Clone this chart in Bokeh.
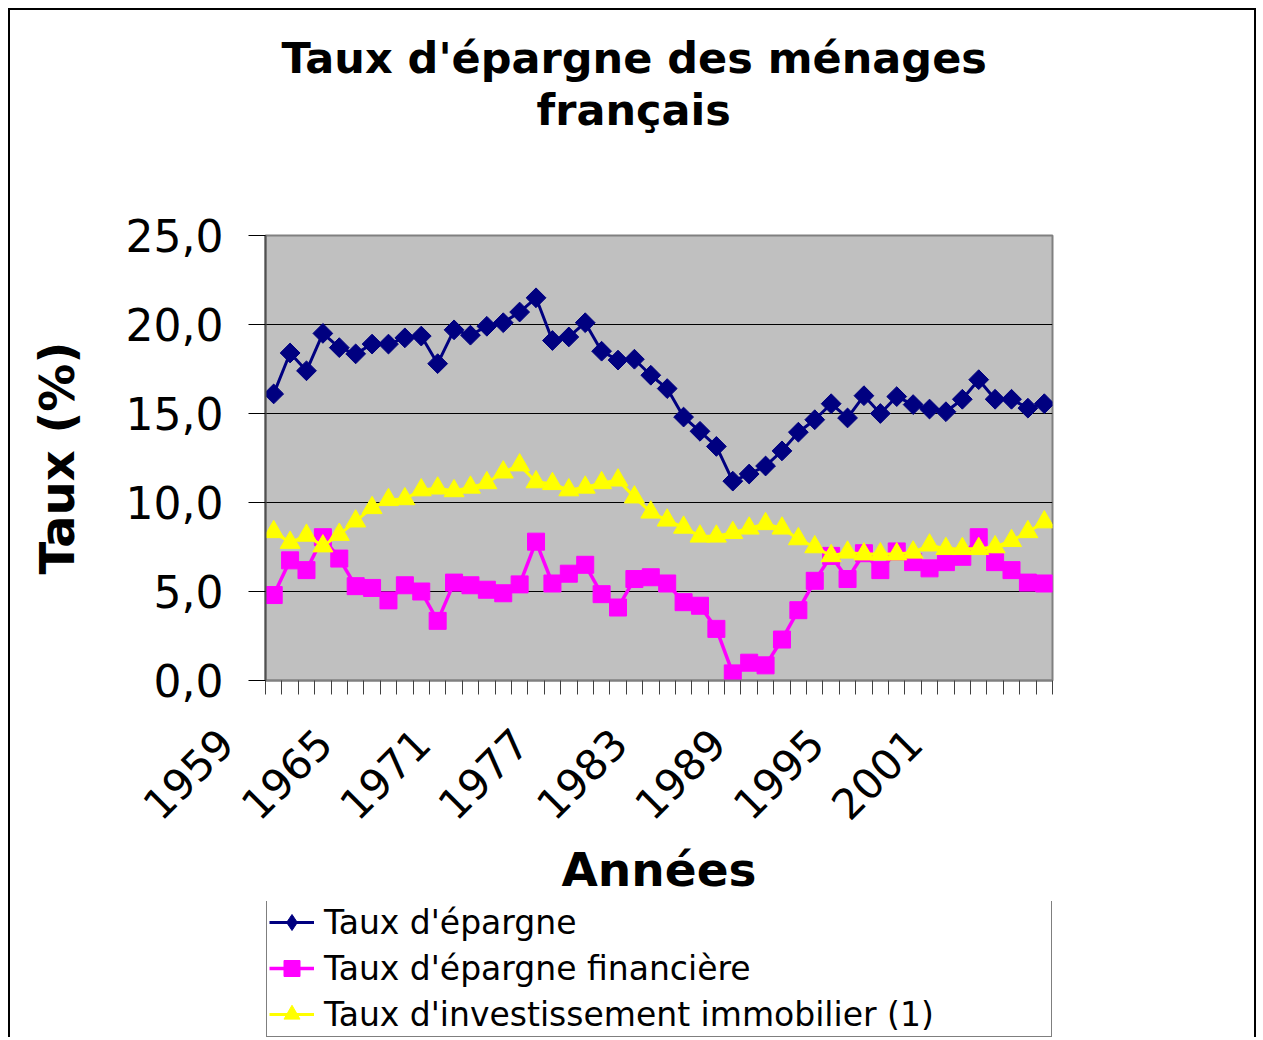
import numpy as np
from bokeh.plotting import figure
from bokeh.layouts import column
from bokeh.models import Range1d, FixedTicker, Legend, LegendItem, Title
from bokeh.embed import file_html
from bokeh.resources import INLINE

years = [1959, 1960, 1961, 1962, 1963, 1964, 1965, 1966, 1967, 1968, 1969, 1970,
         1971, 1972, 1973, 1974, 1975, 1976, 1977, 1978, 1979, 1980, 1981, 1982,
         1983, 1984, 1985, 1986, 1987, 1988, 1989, 1990, 1991, 1992, 1993, 1994,
         1995, 1996, 1997, 1998, 1999, 2000, 2001, 2002, 2003, 2004, 2005, 2006]

taux_epargne = [16.1, 18.4, 17.4, 19.5, 18.7, 18.35, 18.9, 18.9, 19.25, 19.35, 17.8, 19.7,
                19.4, 19.9, 20.1, 20.7, 21.5, 19.1, 19.3, 20.1, 18.5, 18.0, 18.05, 17.15,
                16.4, 14.8, 14.0, 13.15, 11.2, 11.6, 12.05, 12.9, 13.95, 14.65, 15.55, 14.75,
                16.0, 15.0, 15.95, 15.5, 15.25, 15.1, 15.8, 16.9, 15.8, 15.8, 15.3, 15.55]

taux_financiere = [4.8, 6.75, 6.2, 8.05, 6.85, 5.3, 5.2, 4.5, 5.35, 5.0, 3.35, 5.5,
                   5.35, 5.1, 4.9, 5.4, 7.8, 5.45, 6.0, 6.5, 4.85, 4.1, 5.7, 5.8,
                   5.45, 4.4, 4.2, 2.9, 0.4, 1.0, 0.85, 2.3, 3.95, 5.6, 7.0, 5.7,
                   7.15, 6.2, 7.25, 6.65, 6.3, 6.65, 6.95, 8.05, 6.65, 6.2, 5.5, 5.45]

taux_immobilier = [8.35, 7.75, 8.15, 7.55, 8.2, 8.95, 9.7, 10.15, 10.2, 10.7, 10.8, 10.65,
                   10.85, 11.1, 11.7, 12.1, 11.15, 11.05, 10.7, 10.85, 11.1, 11.25, 10.3, 9.45,
                   9.0, 8.6, 8.1, 8.1, 8.3, 8.55, 8.8, 8.55, 7.95, 7.5, 7.0, 7.2,
                   7.1, 7.1, 7.1, 7.2, 7.6, 7.4, 7.4, 7.4, 7.5, 7.85, 8.35, 8.9]

x_tick_years = [1959, 1965, 1971, 1977, 1983, 1989, 1995, 2001]
x_tick_labels = ["1959", "1965", "1971", "1977", "1983", "1989", "1995", "2001"]
y_ticks = [0, 5, 10, 15, 20, 25]
y_tick_labels = ["0,0", "5,0", "10,0", "15,0", "20,0", "25,0"]

title_lines = ["Taux d'épargne des ménages", "français"]
series_names = ["Taux d'épargne", "Taux d'épargne financière",
                "Taux d'investissement immobilier (1)"]
series_colors = ["#000080", "#FF00FF", "#FFFF00"]
series_values = [taux_epargne, taux_financiere, taux_immobilier]

FONT = "DejaVu Sans"

p = figure(frame_width=787, frame_height=445,
           x_range=Range1d(years[0] - 0.5, years[-1] + 0.5),
           y_range=Range1d(0, 25),
           output_backend="svg", toolbar_location=None,
           min_border_left=255, min_border_right=202,
           min_border_top=225, min_border_bottom=221,
           background_fill_color="#C0C0C0", border_fill_color="white",
           outline_line_color="#808080", outline_line_width=2)

# title block (items stack outward from the plot): spacer, line 2, line 1, spacer
p.title.text = " "
p.title.text_font_size = "1px"
p.title.standoff = 0
p.add_layout(Title(text=" ", text_font_size="1px", standoff=97), "above")
p.add_layout(Title(text=title_lines[1], align="left", offset=271, standoff=0,
                   vertical_align="middle", text_font=FONT, text_font_style="bold",
                   text_font_size="43px", text_color="black"), "above")
p.add_layout(Title(text=title_lines[0], align="left", offset=16, standoff=0,
                   vertical_align="middle", text_font=FONT, text_font_style="bold",
                   text_font_size="43px", text_color="black"), "above")
p.add_layout(Title(text=" ", text_font_size="1px", standoff=14), "above")

# x axis
boundaries = [y - 0.5 for y in years] + [years[-1] + 0.5]
pad = "\u00a0" * 5
p.xaxis.ticker = FixedTicker(ticks=x_tick_years, minor_ticks=boundaries)
p.xaxis.major_label_overrides = {yr: lab + pad for yr, lab in zip(x_tick_years, x_tick_labels)}
p.xaxis.major_label_orientation = np.pi / 4
p.xaxis.major_tick_line_color = None
p.xaxis.major_tick_out = 0
p.xaxis.major_tick_in = 0
p.xaxis.minor_tick_out = 14
p.xaxis.minor_tick_in = 0
p.xaxis.minor_tick_line_color = "#404040"
p.xaxis.minor_tick_line_width = 1
p.xaxis.axis_line_color = "#808080"
p.xaxis.axis_line_width = 2
p.xaxis.major_label_text_font = FONT
p.xaxis.major_label_text_font_size = "42px"
p.xaxis.major_label_text_color = "black"
p.xaxis.major_label_standoff = -5
p.xaxis.axis_label = "Années"
p.xaxis.axis_label_text_font = FONT
p.xaxis.axis_label_text_font_style = "bold"
p.xaxis.axis_label_text_font_size = "47px"
p.xaxis.axis_label_text_color = "black"
p.xaxis.axis_label_standoff = -8

# y axis
p.yaxis.ticker = FixedTicker(ticks=y_ticks, minor_ticks=[])
p.yaxis.major_label_overrides = dict(zip(y_ticks, y_tick_labels))
p.yaxis.major_tick_out = 17
p.yaxis.major_tick_in = 0
p.yaxis.major_tick_line_color = "black"
p.yaxis.minor_tick_line_color = None
p.yaxis.axis_line_color = "#505050"
p.yaxis.axis_line_width = 2
p.yaxis.major_label_text_font = FONT
p.yaxis.major_label_text_font_size = "44px"
p.yaxis.major_label_text_color = "black"
p.yaxis.major_label_standoff = 25
p.yaxis.axis_label = "Taux (%)"
p.yaxis.axis_label_text_font = FONT
p.yaxis.axis_label_text_font_style = "bold"
p.yaxis.axis_label_text_font_size = "48px"
p.yaxis.axis_label_text_color = "black"
p.yaxis.axis_label_standoff = 38

p.xgrid.visible = False
p.ygrid.grid_line_color = "black"
p.ygrid.grid_line_width = 1

markers = [dict(marker="square", size=14, angle=np.pi / 4),
           dict(marker="square", size=17),
           dict(marker="triangle", size=20)]
legend_markers = ["diamond", "square", "triangle"]
widths = [3, 3.5, 3]

for vals, col, mk, lw in zip(series_values, series_colors, markers, widths):
    p.line(years, vals, line_color=col, line_width=lw)
    p.scatter(years, vals, fill_color=col, line_color=col, **mk)

# legend panel below the chart (its glyph renderers lie outside its own ranges)
leg = figure(width=1244, height=136, x_range=Range1d(0, 1), y_range=Range1d(0, 1),
             output_backend="svg", toolbar_location=None,
             x_axis_location=None, y_axis_location=None,
             min_border=0, min_border_left=0, min_border_right=0,
             min_border_top=0, min_border_bottom=0,
             outline_line_color=None, background_fill_color="white",
             border_fill_color="white")
leg.xgrid.visible = False
leg.ygrid.visible = False
items = []
for name, vals, col, mk, lw in zip(series_names, series_values, series_colors,
                                   legend_markers, widths):
    lr = leg.line(years, vals, line_color=col, line_width=lw)
    sr = leg.scatter(years, vals, marker=mk, size=16, fill_color=col, line_color=col)
    items.append(LegendItem(label=name, renderers=[lr, sr]))

legend = Legend(items=items, location=(1, 0), orientation="vertical",
                label_text_font=FONT, label_text_font_size="33px",
                label_text_color="black",
                glyph_width=45, glyph_height=40, label_height=40, label_width=725,
                label_standoff=10, spacing=6, padding=2, margin=0,
                border_line_color="black", border_line_width=1,
                background_fill_color="white", background_fill_alpha=1.0)
leg.add_layout(legend)

layout = column(p, leg, spacing=0,
                styles={"margin-left": "8px", "margin-top": "8px",
                        "border-top": "2px solid black", "border-left": "2px solid black",
                        "border-right": "2px solid black"})

open("out.html", "w").write(file_html(layout, INLINE))
